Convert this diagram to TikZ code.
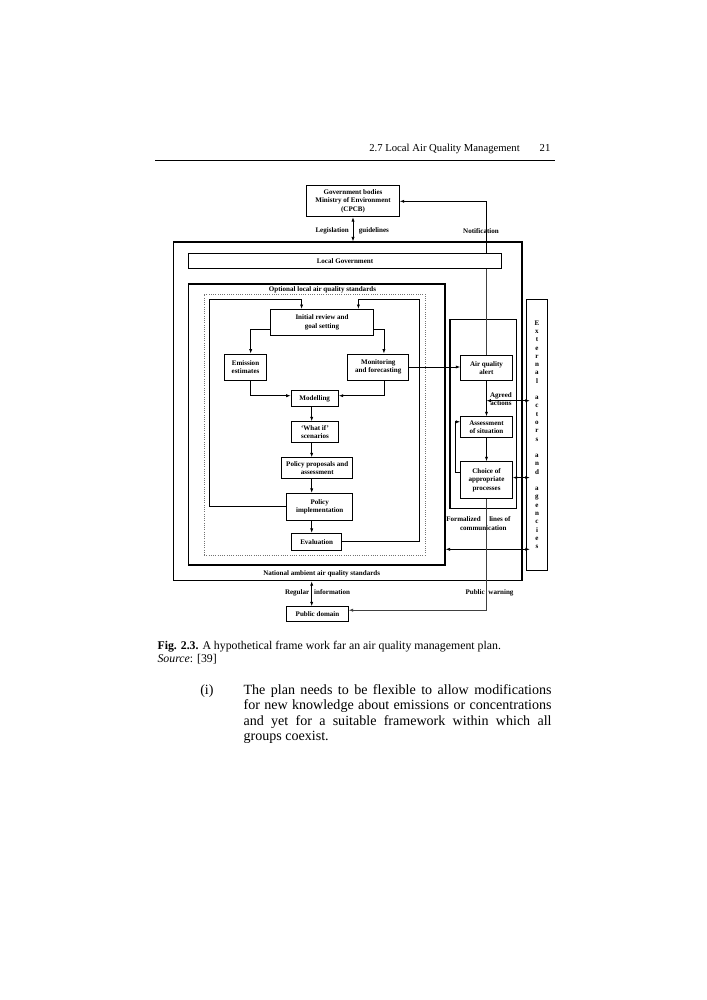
\documentclass[tikz,border=0pt]{standalone}
\usepackage{fontspec}
\setmainfont{Liberation Serif}
\usetikzlibrary{arrows.meta, positioning, calc}
\tikzset{
    blk/.style={draw, line width=0.7pt, font=\fontsize{5}{5.9}\selectfont\bfseries, align=center, inner sep=0pt},
    frame/.style={draw, line width=0.8pt, inner sep=0pt},
    lbl/.style={font=\fontsize{5}{5.9}\selectfont\bfseries, inner sep=0pt},
    arr/.style={-{Latex[length=1.1mm, width=0.8mm]}, line width=0.5pt},
    dbl/.style={{Latex[length=1.1mm, width=0.8mm]}-{Latex[length=1.1mm, width=0.8mm]}, line width=0.5pt},
    thinln/.style={line width=0.4pt, draw=black!75},
    txt/.style={inner sep=0pt, anchor=base west},
}

\begin{document}
\begin{tikzpicture}[x=0.25mm, y=-0.25mm]
    \useasboundingbox (0,0) rectangle (707,1000);

    % running head
    \node[txt, anchor=base east, font=\fontsize{7.6}{9}\selectfont] (head) at (520,151.5) {2.7 Local Air Quality Management};
    \node[txt, anchor=base east, font=\fontsize{7.6}{9}\selectfont] (pg) at (550.7,151.5) {21};
    \coordinate (rl) at (155,160.7);
    \coordinate (rr) at (555,160.7);
    \draw[line width=0.6pt] (rl) -- (rr);

    % boxes
    \node[blk, minimum width=23.15mm, minimum height=7.7mm] (gov) at (353,201.3) {Government bodies\\Ministry of Environment\\(CPCB)};
    \node[frame, minimum width=87.2mm, minimum height=84.7mm] (lauth) at (347.65,411.35) {};
    \node[blk, minimum width=78.3mm, minimum height=3.85mm] (lgov) at (345,261) {Local Government};
    \node[frame, minimum width=64.2mm, minimum height=70.25mm] (opt) at (316.65,424.5) {};
    \node[draw=black!55, densely dotted, line width=0.6pt, inner sep=0pt, minimum width=55.2mm, minimum height=65.25mm] (dot) at (314.65,424.5) {};

    \node[blk, minimum width=25.65mm, minimum height=6.4mm] (init) at (322,322.2) {Initial review and\\goal setting};
    \node[blk, minimum width=10.6mm, minimum height=6.5mm] (emis) at (245.5,367) {Emission\\estimates};
    \node[blk, minimum width=15.3mm, minimum height=6.5mm] (monit) at (378.3,367) {Monitoring\\and forecasting};
    \node[blk, minimum width=11.8mm, minimum height=4mm] (model) at (314.7,398.7) {Modelling};
    \node[blk, minimum width=11.65mm, minimum height=5.15mm] (whatif) at (315,432) {`What if'\\scenarios};
    \node[blk, minimum width=17.75mm, minimum height=5.15mm] (polprop) at (317.2,468) {Policy proposals and\\assessment};
    \node[blk, minimum width=16.5mm, minimum height=6.7mm] (polimp) at (319.7,506.7) {Policy\\implementation};
    \node[blk, minimum width=12.5mm, minimum height=4.2mm] (evalb) at (316.7,541.7) {Evaluation};

    \node[frame, minimum width=16.7mm, minimum height=47.25mm] (formal) at (483.35,413.8) {};
    \node[blk, minimum width=12.9mm, minimum height=6.4mm] (alert) at (486.5,367.85) {Air quality\\alert};
    \node[blk, minimum width=12.9mm, minimum height=5.15mm] (assess) at (486.5,427) {Assessment\\of situation};
    \node[blk, minimum width=12.9mm, minimum height=9.15mm] (choice) at (486.5,480) {Choice of\\appropriate\\processes};

    \node[blk, minimum width=5.15mm, minimum height=67.7mm] (ext) at (537,434.65)
      {E\\x\\t\\e\\r\\n\\a\\l\\[5.81pt]a\\c\\t\\o\\r\\s\\[5.81pt]a\\n\\d\\[5.81pt]a\\g\\e\\n\\c\\i\\e\\s};

    \node[blk, minimum width=15.4mm, minimum height=3.75mm] (pubdom) at (317.5,614.2) {Public domain};

    % labels
    \node[lbl, anchor=base east] (legis) at (349,232) {Legislation};
    \node[lbl, base right=2.4mm of legis] (guide) {guidelines};
    \node[lbl] (notif) at (481,230.7) {Notification};
    \node[lbl] (optl) at (322.5,289.8) {Optional local air quality standards};
    \node[lbl] (natl) at (321.7,573.7) {National ambient air quality standards};
    \node[lbl, align=center] (agrd) at (501,399) {Agreed\\actions};
    \node[lbl, anchor=base east] (formz) at (481,521) {Formalized};
    \node[lbl, base right=2mm of formz] (lnsof) {lines of};
    \node[lbl] (comm) at (483.3,528) {communication};
    \node[lbl, anchor=base east] (reg) at (309.5,594) {Regular};
    \node[lbl, base right=1.1mm of reg] (info) {information};
    \node[lbl, anchor=base east] (pub) at (485,594) {Public};
    \node[lbl, base right=0.8mm of pub] (warn) {warning};

    % connectors
    \coordinate (col) at (311.7,0);
    \coordinate (vl) at (486.5,0);
    \coordinate (lloop) at (209.3,299);
    \coordinate (rloop) at (419.3,299);
    \coordinate (agr) at (486.5,400.7);
    \coordinate (evy) at (0,549.3);

    \draw[dbl] (gov.south) -- (gov.south |- lauth.north);
    \draw[arr] (lgov.north -| vl) |- (gov.east);
    \draw[thinln] (lgov.south -| vl) -- (alert.north);

    \draw[arr] ([yshift=-1.8mm]init.west) -| ([xshift=1.3mm]emis.north);
    \draw[arr] ([yshift=-1.8mm]init.east) -| ([xshift=1.4mm]monit.north);
    \draw[arr] ([xshift=1.3mm]emis.south) |- ([yshift=0.75mm]model.west);
    \draw[arr] ([xshift=1.4mm]monit.south) |- ([yshift=0.75mm]model.east);
    \draw[arr] (model.south -| col) -- (whatif.north -| col);
    \draw[arr] (whatif.south -| col) -- (polprop.north -| col);
    \draw[arr] (polprop.south -| col) -- (polimp.north -| col);
    \draw[arr] (polimp.south -| col) -- (evalb.north -| col);
    \draw[arr] (polimp.west) -| (lloop) -| ([xshift=-5.1mm]init.north);
    \draw[arr] (evalb.east) -| (rloop) -| ([xshift=9.1mm]init.north);

    \draw[arr] (monit.east) -- (monit.east -| alert.west);
    \draw[arr] (alert.south) -- (assess.north);
    \draw[arr] (assess.south) -- (choice.north);
    \draw[arr] ([yshift=1.8mm]choice.west) -- ++(-1.25mm,0) |- ([yshift=1.3mm]assess.west);
    \draw[dbl] (agr) -- ($(agr -| ext.west)+(0.9mm,0)$);
    \draw[dbl] ($(choice.east)+(0,0.6mm)$) -- ($(choice.east -| ext.west)+(0.9mm,0.6mm)$);
    \draw[dbl] (opt.east |- evy) -- ($(evy -| ext.west)+(0.9mm,0)$);

    \draw[dbl] (lauth.south -| col) -- (pubdom.north -| col);
    \draw[arr, thinln] (choice.south) |- ([yshift=1mm]pubdom.east);

    % caption
    \node[txt, font=\fontsize{8.4}{10}\selectfont] (cap) at (157.3,649.3) {\textbf{Fig. 2.3.} A hypothetical frame work far an air quality management plan.};
    \node[txt, font=\fontsize{8.4}{10}\selectfont] (src) at (157.3,662) {\textit{Source}: [39]};

    % text
    \node[txt, font=\fontsize{10}{11}\selectfont] (item) at (200,694.2) {(i)};
    \node[txt, font=\fontsize{10}{11}\selectfont] (ln1) at (243.3,694.2) {\makebox[77mm][s]{The plan needs to be flexible to allow modifications}};
    \node[txt, font=\fontsize{10}{11}\selectfont] (ln2) at (243.3,709.7) {\makebox[77mm][s]{for new knowledge about emissions or concentrations}};
    \node[txt, font=\fontsize{10}{11}\selectfont] (ln3) at (243.3,725.2) {\makebox[77mm][s]{and yet for a suitable framework within which all}};
    \node[txt, font=\fontsize{10}{11}\selectfont] (ln4) at (243.3,740.7) {groups coexist.};
\end{tikzpicture}
\end{document}
